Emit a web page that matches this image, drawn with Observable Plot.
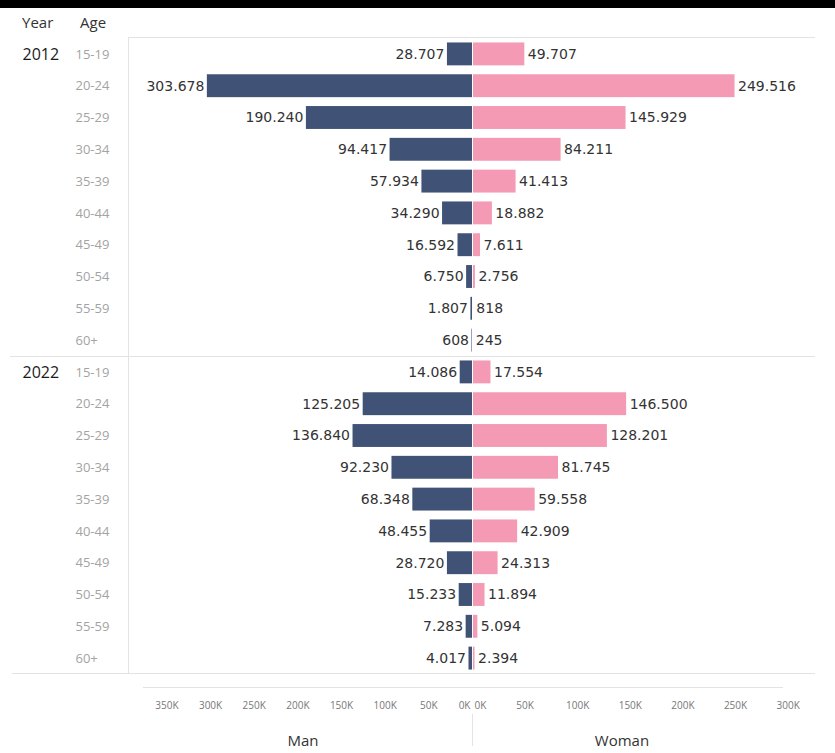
<!DOCTYPE html>
<html><head><meta charset="utf-8">
<script src="https://cdn.jsdelivr.net/npm/d3@7"></script>
<script src="https://cdn.jsdelivr.net/npm/@observablehq/plot@0.6"></script>
<style>
body{margin:0;background:#fff;font-family:"Open Sans",sans-serif;}
#wrap{position:relative;width:835px;height:753px;overflow:hidden;background:#fff}
.hl{position:absolute;height:1px;background:#e3e3e3}
.vl{position:absolute;width:1px;background:#e3e3e3}
.txt{position:absolute;font-size:15px;color:#333;white-space:nowrap}
svg{overflow:visible}
</style></head><body><div id="wrap"></div>
<script>
const years = ["2012", "2022"];
const ages = ["15-19","20-24","25-29","30-34","35-39","40-44","45-49","50-54","55-59","60+"];
const man2012   = [28707, 303678, 190240, 94417, 57934, 34290, 16592, 6750, 1807, 608];
const woman2012 = [49707, 249516, 145929, 84211, 41413, 18882, 7611, 2756, 818, 245];
const man2022   = [14086, 125205, 136840, 92230, 68348, 48455, 28720, 15233, 7283, 4017];
const woman2022 = [17554, 146500, 128201, 81745, 59558, 42909, 24313, 11894, 5094, 2394];
const manTicks = [0, 50000, 100000, 150000, 200000, 250000, 300000, 350000];
const womanTicks = [0, 50000, 100000, 150000, 200000, 250000, 300000];
const sexLabels = ["Man", "Woman"];
const headerLabels = ["Year", "Age"];

const manByYear = {"2012": man2012, "2022": man2022};
const womanByYear = {"2012": woman2012, "2022": woman2022};
const rows = [];
for (const y of years) ages.forEach((a, i) => rows.push({year: y, age: a, key: y + " " + a, man: manByYear[y][i], woman: womanByYear[y][i]}));

const loc = d3.formatLocale({decimal: ",", thousands: ".", grouping: [3], currency: ["", ""]});
const fmt = loc.format(",d");
const kfmt = d => (d / 1000) + "K";

const FONT = "'Open Sans', sans-serif";
const VFONT = "'DejaVu Sans', sans-serif";
const TOP = 38;
const ROWS_H = 636;
const yScale = () => ({domain: rows.map(d => d.key), range: [0, ROWS_H], paddingInner: 0.28, paddingOuter: 0.14, round: false, axis: null});
const MAN = "#405376", WOMAN = "#f49ab5";

const wrap = document.getElementById("wrap");
function place(el, left, top) { el.style.position = "absolute"; el.style.left = left + "px"; el.style.top = top + "px"; wrap.appendChild(el); }
function line(cls, left, top, len) {
  const d = document.createElement("div"); d.className = cls;
  d.style.left = left + "px"; d.style.top = top + "px";
  if (cls === "hl") d.style.width = len + "px"; else d.style.height = len + "px";
  wrap.appendChild(d);
}
function label(text, x, y, anchor, size, color, weight) {
  const d = document.createElement("div"); d.className = "txt"; d.textContent = text;
  d.style.fontSize = size + "px"; d.style.color = color; if (weight) d.style.fontWeight = weight;
  d.style.left = x + "px"; d.style.top = y + "px";
  d.style.transform = anchor === "middle" ? "translate(-50%,-50%)" : "translate(0,-50%)";
  wrap.appendChild(d);
}

// top black strip
const strip = document.createElement("div");
strip.style.cssText = "position:absolute;left:0;top:0;width:835px;height:8px;background:#000";
wrap.appendChild(strip);

// grid / separators
line("hl", 128, TOP - 1, 687);
line("vl", 128, TOP - 1, ROWS_H + 1);
line("hl", 10, TOP + ROWS_H / 2, 805);
line("hl", 12, TOP + ROWS_H - 1, 803);
line("hl", 143, 687, 640);
line("vl", 472, 714, 32);

// headers
label(headerLabels[0], 22, 22, "start", 15, "#333");
label(headerLabels[1], 80, 22, "start", 15, "#333");
label(sexLabels[0], 303, 740, "middle", 15, "#333");
label(sexLabels[1], 622, 740, "middle", 15, "#333");

// left labels (Year / Age)
const leftPlot = Plot.plot({
  width: 128, height: ROWS_H, marginLeft: 0, marginRight: 0, marginTop: 0, marginBottom: 0,
  y: yScale(),
  style: {fontFamily: FONT, background: "transparent"},
  marks: [
    Plot.text(rows.filter(d => d.age === ages[0]), {y: "key", text: "year", frameAnchor: "left", dx: 22, textAnchor: "start", fontSize: 16, fill: "#1a1a1a", fontWeight: 500}),
    Plot.text(rows, {y: "key", text: "age", frameAnchor: "left", dx: 75, textAnchor: "start", fontSize: 13, fill: "#a3a3a3"})
  ]
});
place(leftPlot, 0, TOP);

// Man panel
const manPlot = Plot.plot({
  width: 344, height: ROWS_H + 60, marginLeft: 0, marginRight: 0, marginTop: 0, marginBottom: 60,
  x: {domain: [0, 394000], reverse: true, axis: null},
  y: yScale(),
  style: {fontFamily: FONT, background: "transparent"},
  marks: [
    Plot.barX(rows, {x: "man", y: "key", fill: MAN}),
    Plot.text(rows, {x: "man", y: "key", text: d => fmt(d.man), textAnchor: "end", dx: -3, fontSize: 14, fontFamily: VFONT, fill: "#333"}),
    Plot.axisX({ticks: manTicks.filter(t => t > 0), tickFormat: kfmt, tickSize: 0, tickPadding: 27, fontSize: 10, color: "#777", label: null}),
    Plot.axisX({ticks: [0], tickFormat: kfmt, tickSize: 0, tickPadding: 27, fontSize: 10, color: "#777", label: null, textAnchor: "end", dx: -2})
  ]
});
place(manPlot, 128, TOP);

// Woman panel
const womanPlot = Plot.plot({
  width: 343, height: ROWS_H + 60, marginLeft: 0, marginRight: 0, marginTop: 0, marginBottom: 60,
  x: {domain: [0, 326000], axis: null},
  y: yScale(),
  style: {fontFamily: FONT, background: "transparent"},
  marks: [
    Plot.barX(rows, {x: "woman", y: "key", fill: WOMAN, insetLeft: 1}),
    Plot.text(rows, {x: "woman", y: "key", text: d => fmt(d.woman), textAnchor: "start", dx: 3, fontSize: 14, fontFamily: VFONT, fill: "#333"}),
    Plot.axisX({ticks: womanTicks.filter(t => t > 0), tickFormat: kfmt, tickSize: 0, tickPadding: 27, fontSize: 10, color: "#777", label: null}),
    Plot.axisX({ticks: [0], tickFormat: kfmt, tickSize: 0, tickPadding: 27, fontSize: 10, color: "#777", label: null, textAnchor: "start", dx: 2})
  ]
});
place(womanPlot, 472, TOP);
</script></body></html>
